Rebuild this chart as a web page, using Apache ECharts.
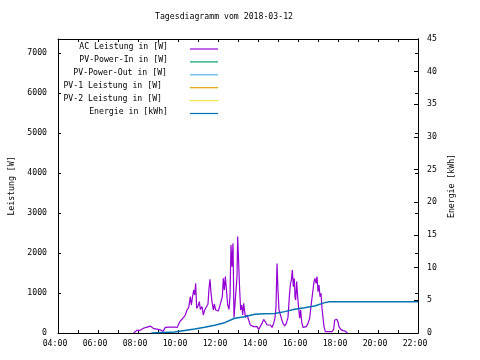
<!DOCTYPE html>
<html><head><meta charset="utf-8">
<script src="https://cdn.jsdelivr.net/npm/echarts@6/dist/echarts.min.js"></script>
<style>html,body{margin:0;padding:0;background:#fff}#c{width:480px;height:360px}</style>
</head><body><div id="c"></div>
<script>
const chartTitle = 'Tagesdiagramm vom 2018-03-12';
const seriesNames = ['AC Leistung in [W]','PV-Power-In in [W]','PV-Power-Out in [W]','PV-1 Leistung in [W]','PV-2 Leistung in [W]','Energie in [kWh]'];
const seriesColors = ['#9400D3','#009E73','#56B4E9','#E69F00','#F0E442','#0072B2'];
const xTickLabels = ['04:00','06:00','08:00','10:00','12:00','14:00','16:00','18:00','20:00','22:00'];
const leftAxisName = 'Leistung [W]';
const rightAxisName = 'Energie [kWh]';

const acTimes = ['07:47','07:52','07:58','08:05','08:10','08:18','08:25','08:30','08:38','08:42','08:47','08:52','08:57','09:02','09:07','09:12','09:15','09:18','09:22','09:35','09:48','09:53','09:58',
'10:02','10:07','10:12','10:17','10:22','10:27','10:32','10:37','10:40','10:43','10:47','10:50','10:53','10:56','11:00','11:04','11:07','11:12','11:16','11:20','11:26','11:30','11:33','11:36','11:39','11:42','11:46','11:49','11:53','11:57',
'12:01','12:05','12:09','12:13','12:16','12:19','12:22','12:25','12:29','12:33','12:36','12:39','12:42','12:45','12:48','12:51','12:54','12:57','12:59',
'13:02','13:05','13:08','13:11','13:14','13:17','13:20','13:22','13:27','13:32','13:37','13:42','13:47','13:52','13:57',
'14:02','14:07','14:12','14:17','14:22','14:27','14:32','14:37','14:42','14:47','14:51','14:54','14:57',
'15:00','15:03','15:07','15:10','15:15','15:20','15:25','15:30','15:34','15:37','15:40','15:43','15:46','15:49','15:51','15:53','15:56','15:59',
'16:02','16:05','16:08','16:11','16:15','16:20','16:25','16:30','16:35','16:40','16:45','16:48','16:51','16:54','16:57',
'17:00','17:03','17:06','17:09','17:12','17:15','17:18','17:22','17:27','17:32','17:37','17:42','17:47','17:50','17:54','17:57',
'18:00','18:03','18:08','18:15','18:22','18:28'];
const acWatts = [0,40,75,60,90,125,140,130,170,175,110,130,95,135,80,115,40,90,140,145,150,160,140,
225,300,340,390,450,575,635,910,700,870,1075,950,1240,615,675,785,590,660,450,575,560,725,1115,1340,1010,785,575,725,575,610,
550,660,785,910,1365,1075,1410,1115,700,590,910,2200,1660,2240,390,410,370,1410,2410,
2370,1075,575,700,450,740,535,390,450,325,200,225,160,120,160,
90,140,240,340,280,200,160,200,140,240,370,660,1740,
1075,575,535,370,240,175,240,390,910,1200,1325,1575,1160,1365,900,825,1285,910,
615,370,575,280,140,90,160,240,370,740,1075,1285,1365,1240,1410,
1035,1200,910,990,615,575,160,35,60,35,60,35,90,325,300,340,
275,160,90,60,45,0];

const energyTimes = ['08:40','09:50','10:20','10:50','11:20','11:50','12:20','12:50','13:20','13:50','14:20','14:50','15:20','15:50','16:20','16:50','17:20','17:35','22:00'];
const energyKWh = [0,0.15,0.4,0.6,0.87,1.2,1.58,2.25,2.5,2.86,2.93,3.0,3.27,3.63,3.88,4.14,4.65,4.8,4.8];

function toHours(s){const p=s.split(':');return +p[0] + (+p[1])/60;}
const acData = acTimes.map((t,i)=>[toHours(t), acWatts[i]]);
const energyData = energyTimes.map((t,i)=>[toHours(t), energyKWh[i]]);

const FONT = 'DejaVu Sans Mono';
const FS = 8.2;
const txt = {color:'#000', fontFamily:FONT, fontSize:FS};
const black = {color:'#000', width:1};

const legendRight = [168,168,167,162,162,168];
const graphics = [];
seriesNames.forEach((n,i)=>{
  const y = 49 + i*12.9;
  graphics.push({type:'text', x: legendRight[i], y: y-2, style:{text:n, fill:'#000', font: FS+'px "'+FONT+'"', textAlign:'right', textVerticalAlign:'middle'}});
  graphics.push({type:'line', shape:{x1:190,y1:y,x2:218,y2:y}, style:{stroke:seriesColors[i], lineWidth:1.2}});
});

const chart = echarts.init(document.getElementById('c'), null, {renderer:'canvas'});
chart.setOption({
  animation:false,
  backgroundColor:'#fff',
  title:{text:chartTitle, left:155, top:13, padding:0, textStyle:{color:'#000', fontFamily:FONT, fontSize:FS, fontWeight:'normal'}},
  grid:{left:58, right:62, top:39, bottom:27, containLabel:false},
  xAxis:[
    {type:'value', min:4, max:22, interval:1, position:'bottom',
     axisLine:{show:true, onZero:false, lineStyle:black},
     axisTick:{show:true, inside:true, length:3, lineStyle:black},
     axisLabel:{...txt, margin:7, padding:[0,6,0,0], formatter:v=> (v%2===0) ? xTickLabels[(v-4)/2] : ''},
     splitLine:{show:false}},
    {type:'value', min:4, max:22, interval:1, position:'top',
     axisLine:{show:true, onZero:false, lineStyle:black},
     axisTick:{show:true, inside:true, length:3, lineStyle:black},
     axisLabel:{show:false}, splitLine:{show:false}}
  ],
  yAxis:[
    {type:'value', min:0, max:7350, interval:1000, position:'left',
     name:leftAxisName, nameLocation:'middle', nameRotate:90, nameGap:42, nameTextStyle:txt,
     axisLine:{show:true, lineStyle:black},
     axisTick:{show:true, inside:true, length:3, lineStyle:black},
     axisLabel:{...txt, margin:11, showMaxLabel:false, formatter:v=> (v%1000===0) ? String(v) : ''}, splitLine:{show:false}},
    {type:'value', min:0, max:45, interval:5, position:'right',
     name:rightAxisName, nameLocation:'middle', nameRotate:90, nameGap:29, nameTextStyle:txt,
     axisLine:{show:true, lineStyle:black},
     axisTick:{show:true, inside:true, length:4, lineStyle:black},
     axisLabel:{...txt, margin:9, formatter:v=>String(v)}, splitLine:{show:false}},
    {type:'value', min:0, max:7350, interval:1000, position:'right',
     axisLine:{show:true, lineStyle:black},
     axisTick:{show:true, inside:true, length:3, lineStyle:black},
     axisLabel:{show:false}, splitLine:{show:false}}
  ],
  graphic: graphics,
  series:[
    {name:seriesNames[0], type:'line', xAxisIndex:0, yAxisIndex:0, data:acData, showSymbol:false, lineStyle:{color:seriesColors[0], width:1.2}, itemStyle:{color:seriesColors[0]}},
    {name:seriesNames[5], type:'line', xAxisIndex:0, yAxisIndex:1, data:energyData, showSymbol:false, lineStyle:{color:seriesColors[5], width:1.5}, itemStyle:{color:seriesColors[5]}}
  ]
});
</script></body></html>
